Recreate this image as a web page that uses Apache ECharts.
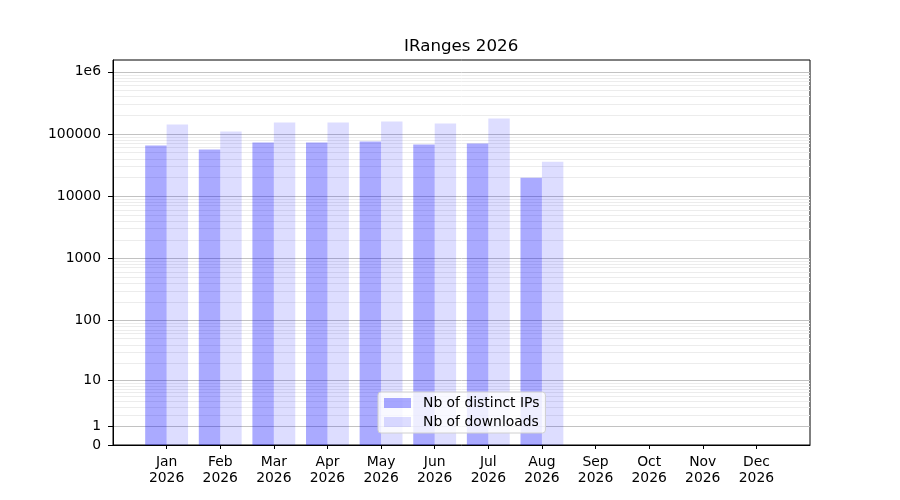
<!DOCTYPE html>
<html>
<head>
<meta charset="utf-8">
<script src="https://cdn.jsdelivr.net/npm/echarts@6/dist/echarts.min.js"></script>
<style>
html,body{margin:0;padding:0;background:#fff;}
#chart{width:900px;height:500px;}
</style>
</head>
<body>
<div id="chart"></div>
<script>
const months = ['Jan','Feb','Mar','Apr','May','Jun','Jul','Aug','Sep','Oct','Nov','Dec'];
const year = '2026';
const distinctIPs = [65200, 56200, 72800, 72800, 75500, 67600, 70200, 19900, null, null, null, null];
const downloads = [142000, 109500, 152700, 152700, 158500, 147200, 177000, 36000, null, null, null, null];
const yTickValues = [0, 1, 10, 100, 1000, 10000, 100000, 1000000];
const yTickLabels = ['0', '1', '10', '100', '1000', '10000', '100000', '1e6'];
const seriesNames = ['Nb of distinct IPs', 'Nb of downloads'];

// log10(1 + v) scale
const t = v => Math.log10(1 + v);
const yMaxValue = 1550000;

const cats = [''].concat(months.map(m => m + '\n' + year)).concat(['']);
const toData = arr => ['-'].concat(arr.map(v => v == null ? '-' : t(v))).concat(['-']);

const tickPos = yTickValues.map(t);
const majorGrid = yTickValues.filter(v => v > 0);
const minorGrid = [];
for (let d = 0; d <= 5; d++) {
  for (let k = 2; k <= 9; k++) minorGrid.push(k * Math.pow(10, d));
}
const gridLines = minorGrid.map(v => ({yAxis: t(v), lineStyle: {color: '#ececec', width: 1, type: 'solid'}}))
  .concat(majorGrid.map(v => ({yAxis: t(v), lineStyle: {color: '#c2c2c2', width: 1, type: 'solid'}})));

const chart = echarts.init(document.getElementById('chart'));
const font = 'DejaVu Sans';
const fs = 13.9;
chart.setOption({
  animation: false,
  textStyle: {fontFamily: font},
  title: {
    text: 'IRanges 2026',
    left: 404,
    top: 38,
    padding: 0,
    textStyle: {fontFamily: font, fontSize: 16.7, fontWeight: 'normal', color: '#000'}
  },
  grid: {
    left: 113, right: 90, top: 60, bottom: 55,
    show: true, borderColor: '#000', borderWidth: 1, backgroundColor: 'transparent'
  },
  legend: {
    data: seriesNames,
    orient: 'vertical',
    left: 378, top: 392,
    padding: [4, 6, 4, 6],
    itemGap: 5,
    itemWidth: 27, itemHeight: 10,
    icon: 'rect',
    z: 10,
    backgroundColor: 'rgba(255,255,255,0.8)',
    borderColor: '#d0d0d0', borderWidth: 1, borderRadius: 3,
    textStyle: {fontFamily: font, fontSize: fs, color: '#000', padding: [0, 0, 0, 7]}
  },
  xAxis: {
    type: 'category',
    data: cats,
    boundaryGap: false,
    z: 6,
    axisLine: {show: true, lineStyle: {color: '#000', width: 1}},
    axisTick: {
      show: true, length: 4, inside: false,
      interval: (i) => i > 0 && i < cats.length - 1,
      lineStyle: {color: '#000'}
    },
    axisLabel: {interval: 0, fontFamily: font, fontSize: fs, color: '#000', lineHeight: 16, margin: 9},
    splitLine: {show: false}
  },
  yAxis: {
    type: 'value',
    min: 0,
    max: t(yMaxValue),
    z: 6,
    axisLine: {show: true, lineStyle: {color: '#000', width: 1}},
    axisTick: {show: true, length: 5, customValues: tickPos, lineStyle: {color: '#000'}},
    axisLabel: {
      customValues: tickPos,
      fontFamily: font, fontSize: fs, color: '#000', margin: 12,
      padding: [6, 0, 0, 0],
      formatter: (val) => {
        let best = 0;
        tickPos.forEach((p, i) => { if (Math.abs(p - val) < Math.abs(tickPos[best] - val)) best = i; });
        return yTickLabels[best];
      }
    },
    splitLine: {show: false}
  },
  series: [
    {
      name: 'gridlines', type: 'line', data: [], z: 0, silent: true,
      markLine: {z: 0, silent: true, symbol: ['none', 'none'], label: {show: false}, animation: false, data: gridLines}
    },
    {
      name: seriesNames[0], type: 'bar', z: 2,
      data: toData(distinctIPs),
      barWidth: '40%', barGap: '0%',
      itemStyle: {color: 'rgba(0,0,255,0.333)'}
    },
    {
      name: seriesNames[1], type: 'bar', z: 2,
      data: toData(downloads),
      barWidth: '40%', barGap: '0%',
      itemStyle: {color: 'rgba(0,0,255,0.133)'}
    }
  ]
});
</script>
</body>
</html>
